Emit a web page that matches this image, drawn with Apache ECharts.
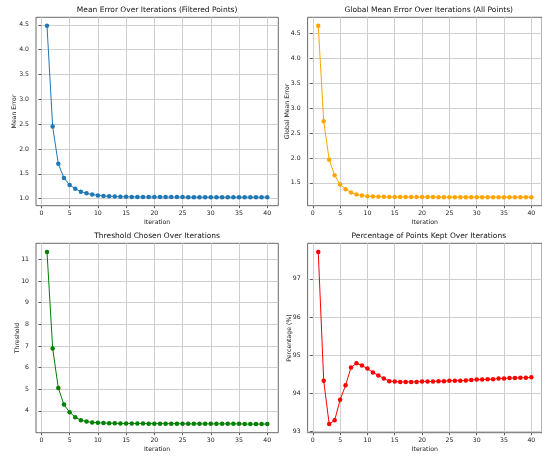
<!DOCTYPE html>
<html>
<head>
<meta charset="utf-8">
<script src="https://cdn.jsdelivr.net/npm/echarts@6/dist/echarts.min.js"></script>
<style>
  html, body { margin: 0; padding: 0; background: #fff; }
  #chart { width: 542px; height: 460px; }
</style>
</head>
<body>
<div id="chart"></div>
<script>
// Iteration numbers shared by all four panels
const iterations = [1, 2, 3, 4, 5, 6, 7, 8, 9, 10, 11, 12, 13, 14, 15, 16, 17, 18, 19, 20,
  21, 22, 23, 24, 25, 26, 27, 28, 29, 30, 31, 32, 33, 34, 35, 36, 37, 38, 39, 40];

// Mean error of the filtered points
const meanError = [4.48, 2.45, 1.70, 1.415, 1.274, 1.20, 1.14, 1.107, 1.08, 1.062,
  1.054, 1.047, 1.042, 1.038, 1.036, 1.034, 1.033, 1.032, 1.032, 1.031,
  1.031, 1.030, 1.030, 1.030, 1.030, 1.029, 1.029, 1.029, 1.029, 1.029,
  1.029, 1.029, 1.029, 1.029, 1.029, 1.029, 1.029, 1.029, 1.029, 1.029];

// Global mean error over all points
const globalMeanError = [4.65, 2.737, 1.965, 1.652, 1.467, 1.374, 1.307, 1.267, 1.247, 1.234,
  1.227, 1.222, 1.220, 1.218, 1.217, 1.216, 1.216, 1.215, 1.215, 1.215,
  1.215, 1.215, 1.214, 1.214, 1.214, 1.214, 1.214, 1.214, 1.214, 1.214,
  1.214, 1.214, 1.214, 1.214, 1.214, 1.214, 1.214, 1.214, 1.214, 1.214];

// Threshold chosen at each iteration
const threshold = [11.35, 6.89, 5.06, 4.29, 3.94, 3.71, 3.57, 3.51, 3.46, 3.45,
  3.44, 3.43, 3.43, 3.42, 3.42, 3.42, 3.42, 3.42, 3.41, 3.41,
  3.41, 3.41, 3.41, 3.41, 3.40, 3.40, 3.40, 3.40, 3.40, 3.40,
  3.40, 3.40, 3.40, 3.40, 3.40, 3.39, 3.39, 3.39, 3.39, 3.39];

// Percentage of points kept
const percentKept = [97.71, 94.32, 93.18, 93.28, 93.82, 94.20, 94.67, 94.78, 94.72, 94.64,
  94.54, 94.46, 94.38, 94.31, 94.30, 94.29, 94.29, 94.29, 94.29, 94.30,
  94.30, 94.30, 94.31, 94.31, 94.32, 94.32, 94.32, 94.33, 94.34, 94.35,
  94.35, 94.36, 94.36, 94.38, 94.38, 94.39, 94.39, 94.40, 94.40, 94.41];

// Tick labels
const xTicks = [0, 5, 10, 15, 20, 25, 30, 35, 40];
const meanErrorTicks = [1.0, 1.5, 2.0, 2.5, 3.0, 3.5, 4.0, 4.5];
const globalErrorTicks = [1.5, 2.0, 2.5, 3.0, 3.5, 4.0, 4.5];
const thresholdTicks = [4, 5, 6, 7, 8, 9, 10, 11];
const percentTicks = [93, 94, 95, 96, 97];

const titles = [
  'Mean Error Over Iterations (Filtered Points)',
  'Global Mean Error Over Iterations (All Points)',
  'Threshold Chosen Over Iterations',
  'Percentage of Points Kept Over Iterations'
];
const yNames = ['Mean Error', 'Global Mean Error', 'Threshold', 'Percentage (%)'];
const colors = ['#1f77b4', '#ffa500', '#008000', '#ff0000'];

const FONT = 'DejaVu Sans';
const TICK_FONT = 6.2;
const panels = [
  { left: 36,    top: 17.3,  width: 242.3, height: 188.4, values: meanError,       ticks: meanErrorTicks,   digits: 1, gap: 18.5 },
  { left: 307.6, top: 17.3,  width: 242.4, height: 188.4, values: globalMeanError, ticks: globalErrorTicks, digits: 1, gap: 17.2 },
  { left: 36,    top: 243.3, width: 242.3, height: 189.4, values: threshold,       ticks: thresholdTicks,   digits: 0, gap: 15.5 },
  { left: 307.6, top: 243.3, width: 242.4, height: 189.4, values: percentKept,     ticks: percentTicks,     digits: 0, gap: 15.3 }
];

// 5% padding on each side, like matplotlib's default autoscale margins
function padded(arr) {
  const lo = Math.min.apply(null, arr), hi = Math.max.apply(null, arr);
  const m = (hi - lo) * 0.05;
  return [lo - m, hi + m];
}

const xRange = padded(iterations);
const gridLine = { show: true, lineStyle: { color: '#cfcfcf', width: 1 } };
const tickStyle = { show: true, length: 2.5, inside: false, lineStyle: { color: '#333', width: 0.8 } };

const option = {
  backgroundColor: '#fff',
  animation: false,
  title: panels.map((p, i) => ({
    text: titles[i],
    left: p.left + p.width / 2,
    top: p.top - 11,
    padding: 0,
    textAlign: 'center',
    textStyle: { fontFamily: FONT, fontSize: 7.5, fontWeight: 'normal', color: '#111' }
  })),
  grid: panels.map(p => ({
    left: p.left, top: p.top, width: p.width, height: p.height,
    show: true, borderColor: '#444', borderWidth: 0.8, backgroundColor: 'transparent'
  })),
  xAxis: panels.map((p, i) => ({
    type: 'value', gridIndex: i,
    min: xRange[0], max: xRange[1],
    name: 'Iteration', nameLocation: 'middle', nameGap: 14, nameMoveOverlap: false,
    nameTextStyle: { fontFamily: FONT, fontSize: TICK_FONT, color: '#222' },
    axisLine: { show: false },
    axisTick: Object.assign({ customValues: xTicks }, tickStyle),
    axisLabel: { customValues: xTicks, fontFamily: FONT, fontSize: TICK_FONT, color: '#222', margin: 4.5 },
    splitLine: gridLine
  })),
  yAxis: panels.map((p, i) => {
    const r = padded(p.values);
    return {
      type: 'value', gridIndex: i,
      min: r[0], max: r[1],
      name: yNames[i], nameLocation: 'middle', nameGap: p.gap, nameMoveOverlap: false,
      nameTextStyle: { fontFamily: FONT, fontSize: TICK_FONT, color: '#222' },
      axisLine: { show: false },
      axisTick: Object.assign({ customValues: p.ticks }, tickStyle),
      axisLabel: {
        customValues: p.ticks, fontFamily: FONT, fontSize: TICK_FONT, color: '#222', margin: 7,
        formatter: v => Number(v).toFixed(p.digits)
      },
      splitLine: gridLine
    };
  }),
  series: panels.map((p, i) => ({
    type: 'line', xAxisIndex: i, yAxisIndex: i,
    data: iterations.map((it, k) => [it, p.values[k]]),
    symbol: 'circle', symbolSize: 4.5,
    itemStyle: { color: colors[i] },
    lineStyle: { color: colors[i], width: 1 },
    clip: false
  }))
};

const chart = echarts.init(document.getElementById('chart'), null, { renderer: 'canvas' });
chart.setOption(option);
</script>
</body>
</html>
